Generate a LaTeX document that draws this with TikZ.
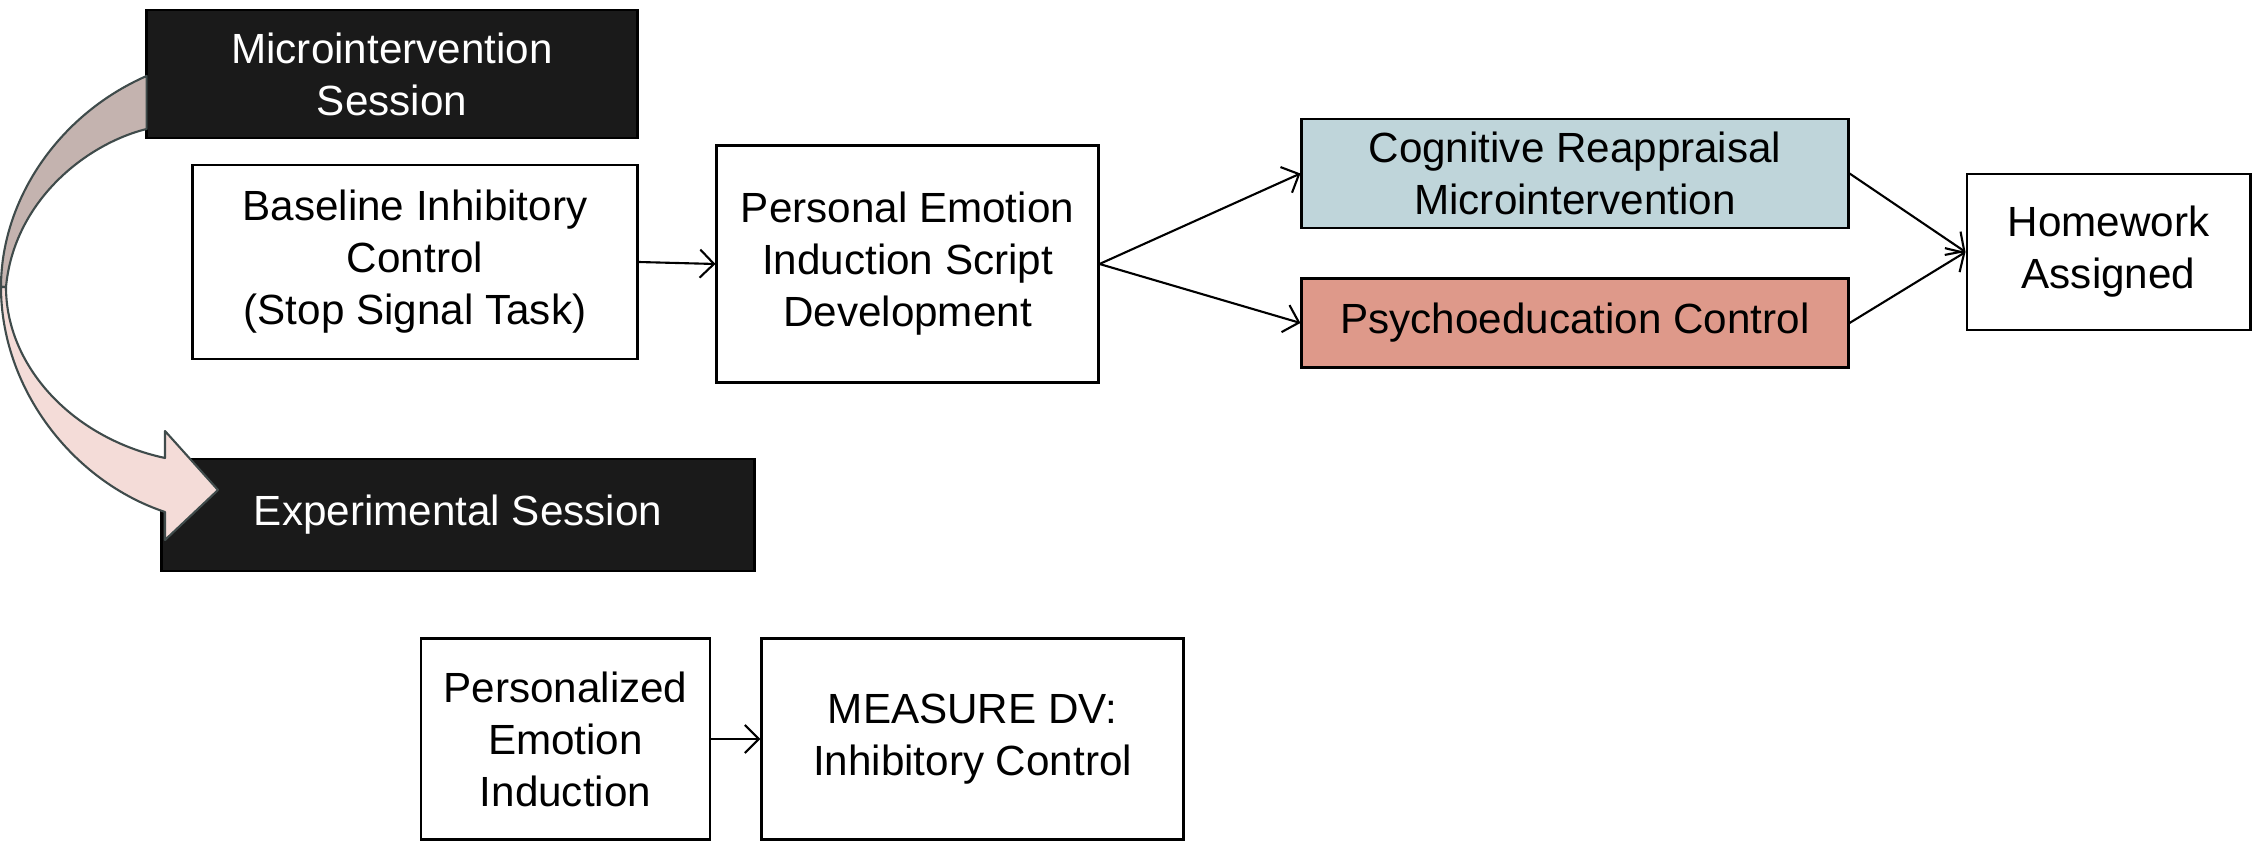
\documentclass[tikz,border=0pt]{standalone}
\usepackage{fontspec}
\setmainfont{Liberation Sans}
\usetikzlibrary{arrows.meta}
\definecolor{boxblack}{HTML}{1A1A1A}
\definecolor{cogblue}{HTML}{BFD5DA}
\definecolor{psyred}{HTML}{DE998A}
\definecolor{arrowpink}{HTML}{F4DCD8}
\definecolor{arrowbrown}{HTML}{C4B3AF}
\definecolor{arrowline}{HTML}{3F4B4B}
\begin{document}
\begin{tikzpicture}[x=0.01cm,y=-0.01cm,
  font=\fontsize{12}{14.8}\selectfont,
  box/.style={draw=black, line width=0.8pt, align=center, inner sep=0pt},
  darkbox/.style={box, fill=boxblack, text=white},
  conn/.style={line width=0.6pt, -{Straight Barb[length=4pt,width=8pt]}},
  bendarrow/.style={draw=arrowline, line width=0.6pt, line join=round}]
\useasboundingbox (0,0) rectangle (2253,843);

% boxes
\node[darkbox, minimum width=4.90cm, minimum height=1.28cm] (micro) at (392,74) {Microintervention\\Session};
\node[box, minimum width=4.44cm, minimum height=1.94cm] (base) at (415,262) {Baseline Inhibitory\\Control\\(Stop Signal Task)};
\node[box, minimum width=3.81cm, minimum height=2.37cm] (pe) at (907.5,264) {Personal Emotion\\Induction Script\\Development};
\node[box, fill=cogblue, minimum width=5.46cm, minimum height=1.09cm] (cog) at (1575,173.5) {Cognitive Reappraisal\\Microintervention};
\node[box, fill=psyred, minimum width=5.46cm, minimum height=0.89cm] (psy) at (1575,323) {Psychoeducation Control};
\node[box, minimum width=2.83cm, minimum height=1.56cm] (hw) at (2108.5,252) {Homework\\Assigned};
\node[darkbox, minimum width=5.92cm, minimum height=1.12cm] (exp) at (458,515) {Experimental Session};
\node[box, minimum width=2.89cm, minimum height=2.01cm] (pers) at (565.5,739) {Personalized\\Emotion\\Induction};
\node[box, minimum width=4.21cm, minimum height=2.01cm] (meas) at (972.5,739) {MEASURE DV:\\Inhibitory Control};

% curved session arrow (drawn over the boxes)
\path[bendarrow, fill=arrowbrown] (146.6,76) .. controls (57.5,115) and (1,201) .. (1,287)
  -- (6,287) .. controls (14,201) and (86,144) .. (146.6,129) -- cycle;
\path[bendarrow, fill=arrowpink] (1,287) .. controls (1,388) and (72,481) .. (165,512)
  -- (165,540) -- (218,490) -- (165,431) -- (165,458)
  .. controls (72,438) and (6,366) .. (6,287) -- cycle;

% connectors
\draw[conn] (base.east) -- (pe.west);
\draw[conn] (pe.east) -- (cog.west);
\draw[conn] (pe.east) -- (psy.west);
\draw[conn] (cog.east) -- (hw.west);
\draw[conn] (psy.east) -- (hw.west);
\draw[conn] (pers.east) -- (meas.west);
\end{tikzpicture}
\end{document}
